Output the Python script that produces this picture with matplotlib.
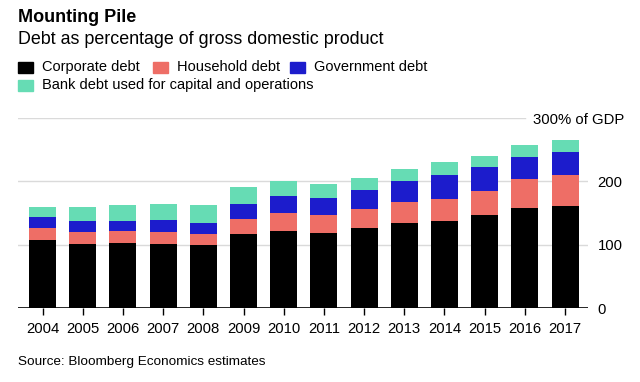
import matplotlib
matplotlib.use("Agg")
import matplotlib.pyplot as plt
import matplotlib.transforms as mtransforms
import numpy as np

years = ["2004", "2005", "2006", "2007", "2008", "2009", "2010",
         "2011", "2012", "2013", "2014", "2015", "2016", "2017"]
corporate = [107.5, 101.5, 103, 101.5, 100, 117, 122, 119, 126.5, 134.5, 138, 147, 158, 161]
household = [19, 18.5, 19, 18.5, 17, 24, 28, 28, 30, 33, 34, 37.5, 45.5, 48.5]
government = [18, 18, 16, 19.5, 18, 23.5, 27, 27.5, 30, 32.5, 38.5, 37.5, 35, 36.5]
bank = [15, 21.5, 24.5, 24.5, 28, 26.5, 23.5, 21, 18.5, 19, 19.5, 17.5, 19, 19.5]
series_names = ["Corporate debt", "Household debt", "Government debt",
                "Bank debt used for capital and operations"]
colors = ["#000000", "#ee6e66", "#1c1ccc", "#66dcb4"]
yticks = [0, 100, 200, 300]
ytick_labels = ["0", "100", "200", "300% of GDP"]

W, H = 640, 382
fig = plt.figure(figsize=(W / 100, H / 100), dpi=100)
plt.rcParams['font.family'] = ['Liberation Sans', 'DejaVu Sans']

ax_l, ax_r, ax_b, ax_t = 18, 588, 308.3, 118
ax = fig.add_axes([ax_l / W, 1 - ax_b / H, (ax_r - ax_l) / W, (ax_b - ax_t) / H])

x = np.arange(len(years))
data = [corporate, household, government, bank]
bottom = np.zeros(len(years))
for vals, c in zip(data, colors):
    ax.bar(x, vals, bottom=bottom, width=0.67, color=c, zorder=2, linewidth=0)
    bottom += np.array(vals)

ax.set_xlim(-0.61, len(years) - 1 + 0.57)
ax.set_ylim(0, 300)

# gridlines
for v in yticks[1:-1]:
    ax.axhline(v, color="#dadada", lw=1, zorder=1)
ax.axhline(yticks[-1], xmin=0, xmax=(525 - ax_l) / (ax_r - ax_l), color="#dadada", lw=1, zorder=1)
ax.axhline(0, color="black", lw=1.2, zorder=3)

for s in ax.spines.values():
    s.set_visible(False)

ax.set_xticks(x)
ax.set_xticklabels(years, fontsize=10.7)
ax.tick_params(axis="x", length=5, width=1, color="black", pad=5)
ax.yaxis.tick_right()
ax.set_yticks(yticks)
ax.set_yticklabels(ytick_labels, fontsize=10.7)
ax.tick_params(axis="y", length=0, pad=7)
lbls = ax.get_yticklabels()
offset = mtransforms.ScaledTranslation(-(598 - 533) / 100, 0, fig.dpi_scale_trans)
lbls[-1].set_transform(lbls[-1].get_transform() + offset)

# titles
fig.text(18 / W, 1 - 17.5 / H, "Mounting Pile", fontsize=13, fontweight="bold", va="center", ha="left")
fig.text(18 / W, 1 - 40 / H, "Debt as percentage of gross domestic product", fontsize=12.9, va="center", ha="left")

# legend
leg_rows = [(67, [(18, 0), (153, 1), (290, 2)]), (85, [(18, 3)])]
for yy, items in leg_rows:
    for xx, i in items:
        fig.patches.append(plt.Rectangle((xx / W, 1 - (yy + 5.5) / H), 15 / W, 11 / H,
                                         transform=fig.transFigure, color=colors[i]))
        fig.text((xx + 24) / W, 1 - yy / H, series_names[i], fontsize=10.5, va="center", ha="left")

fig.text(18 / W, 1 - 362 / H, "Source: Bloomberg Economics estimates", fontsize=9.7, va="center", ha="left")

fig.savefig("out.png", dpi=100, facecolor="white")
